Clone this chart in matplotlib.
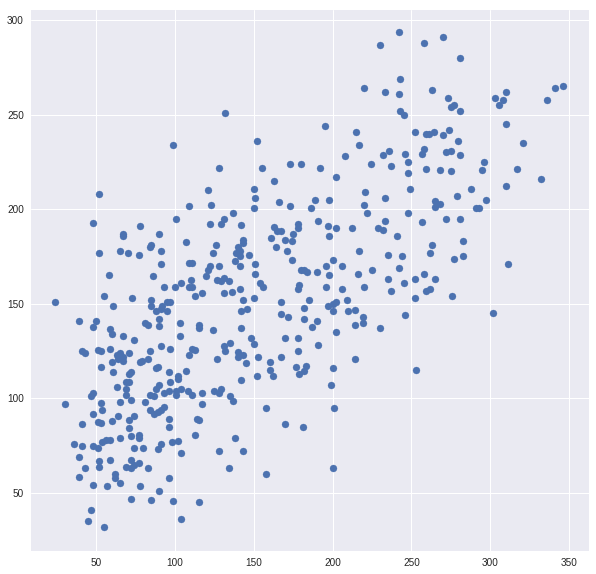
import matplotlib
matplotlib.use("Agg")
import matplotlib.pyplot as plt

# points, grouped by the region they were read from
top_mid = [(98.5, 234), (132, 251), (152, 236), (128, 222), (155, 222), (173, 224), (180, 224),
           (163, 215), (121, 210), (150, 210.5)]
top_right = [(242, 293.5), (230, 287), (258, 288), (270, 291), (243, 269), (220, 264), (233, 262),
             (242, 261), (263, 263), (273, 259), (243, 252), (245, 250), (195, 244), (215, 241),
             (217, 234), (208, 228), (192, 222), (202, 217), (224.5, 224), (232, 228.5), (236, 231),
             (237, 223), (246, 229), (248, 225), (248, 219), (249, 210.5), (252, 241), (259, 240),
             (261, 240), (264, 241), (270, 239), (274, 242), (258, 232), (257, 229), (272, 230),
             (259, 221), (268, 220.5), (220.5, 209)]
top_far = [(281, 280), (277, 255), (275, 254), (281, 252), (310, 262), (303, 259), (308, 257.5),
           (305.5, 255), (336, 257.5), (341, 264), (346, 265), (310, 245), (321, 235), (279.5, 236),
           (275, 231), (281, 228.5), (296, 225), (295, 220.5), (275, 220), (317, 221), (332, 216),
           (310, 212), (288, 210.5)]
mid_far = [(279, 207), (297, 205), (291, 200.4), (293, 200.4), (281, 194.6), (283, 183), (277, 173.5),
           (283, 175), (311, 171), (276, 154), (302, 145)]
mid_right = [(233, 206), (189, 204.6), (198, 205), (220, 202), (222, 198), (233, 194), (248, 198),
             (265, 204.5), (268, 203), (265, 201), (257, 193), (272, 195), (191, 193.5), (197, 191),
             (202, 190), (198, 186), (212, 190), (229, 190), (232, 189), (241, 185.6), (263, 181),
             (262, 177), (217, 178), (235, 176), (244, 175.5), (200, 173), (196, 170), (190, 167),
             (206, 170), (198, 165), (216, 166), (225, 168), (242, 169), (258, 166), (235, 163),
             (245, 161), (252, 163), (265, 163), (196, 159), (206, 157.6), (220, 159), (237, 157),
             (259, 157), (262, 157.6), (252, 153), (197, 149), (200, 150), (202, 151), (200, 146),
             (209, 152), (210, 146), (214, 146.5), (219, 143), (214, 138.6), (219, 139.6), (230, 137),
             (246, 144), (190, 140.7), (202, 135), (191, 128), (214, 120.6), (200, 115.8), (253, 115)]
low_right = [(199, 107), (201, 95), (200, 63)]
mid_left = [(52, 208), (48, 192.5), (78, 191), (67, 187), (67, 185.6), (90, 187), (85, 181), (84, 180),
            (91, 178), (52, 176.6), (65.5, 178), (70, 176.6), (77, 176), (91, 171), (58, 165),
            (86, 164.5), (93, 158.7), (55, 154), (72.5, 153), (60.5, 149), (24, 150.7), (85, 152),
            (85, 148.6), (95, 151), (97, 150.7), (92, 148.6), (91, 147), (88, 146), (95, 146),
            (90, 141.7), (90, 138), (39.5, 141), (50, 140.7), (48, 137.5), (59, 136.5), (60, 134),
            (67, 133), (74, 131), (81, 140), (83, 139), (41, 125), (43, 124), (51, 125.4), (53, 124.8),
            (59, 126), (63, 122.7), (65.5, 124), (67, 121.7), (64, 121), (70.6, 124), (67, 119.5),
            (60, 119), (53, 116.4), (60.5, 114), (78, 119), (79, 119.5), (83, 121), (84, 125),
            (91.5, 127.5), (97, 126), (88, 116), (89, 116.4), (96, 114)]
low_left = [(71, 112.7), (72, 114), (63, 105.8), (69, 108.5), (70.6, 108.5), (69, 104.8), (69, 102),
            (72, 99), (65, 98), (46.5, 101), (48, 102.7), (30.6, 97), (53, 97.4), (53.5, 93.7),
            (48, 91.6), (41, 86.3), (51, 87.3), (53, 86.8), (60, 88), (64, 90.5), (70.6, 88.4),
            (74, 90.5), (70.6, 84.2), (81, 98), (84, 102), (86.5, 101), (90, 107), (88, 104.8),
            (93, 102.7), (96, 103.7), (97, 108.5), (84, 94), (86.5, 91.6), (89, 92.6), (91.5, 94),
            (93, 95.3), (96, 89), (96, 85), (36, 76), (41, 74.7), (48, 74.7), (51, 73.6), (54, 77),
            (56, 77.8), (59, 78), (65, 79), (72, 80), (77, 80.5), (77, 79), (74, 73.6), (79.5, 74),
            (89, 73), (91.5, 75.7), (98, 77), (39, 68.8), (43, 63), (39, 58.3), (52, 66.7), (52, 63.6),
            (59, 67.3), (48, 54), (57, 53.5), (62, 60), (62, 57.7), (65, 55), (69, 63.6), (72, 63),
            (72, 67.3), (74, 65), (77, 65.7), (83, 63), (78, 53.5), (72, 47), (85, 46), (90, 51),
            (96, 57.7), (46.5, 41), (44.6, 35), (55, 32)]
low_mid = [(102, 111.7), (102, 110), (101, 104), (101, 102), (104, 105), (108, 103.7), (111, 102),
           (117.5, 102.7), (117.5, 97), (124.5, 103.7), (128, 103), (129, 105), (135, 101), (137, 98.4),
           (142, 109.5), (152, 111.7), (162, 112), (158, 94.7), (170, 86.3), (181, 85), (179, 113),
           (114, 89), (115.6, 88.4), (113, 80.5), (102, 77.3), (104, 71), (128, 72), (138, 79),
           (143, 72), (134, 63), (158, 60), (98.5, 45.6), (115.6, 45), (104, 36)]
mid_mid = [(151, 205.7), (150, 200.4), (109, 201.5), (122.6, 202), (166, 204), (173, 201.5),
           (186, 200.4), (101, 195), (137, 198), (122, 192), (129, 192), (131, 194.6), (142, 191.4),
           (163, 190.4), (164.5, 188.3), (167, 188.3), (161, 184.6), (178, 192), (178, 189.8),
           (175, 186.7), (170, 183.5), (174, 183), (164, 179.8), (171, 178), (174, 173), (107, 182.4),
           (126, 181), (124, 177), (143, 183.5), (143.5, 182), (140, 180), (141, 178), (138.5, 177),
           (141, 175), (138, 172.4), (141, 170), (147, 175.6), (109, 171.3), (110.6, 171.3), (122, 170),
           (121, 167.6), (120, 164.5), (128, 170), (110, 162.4), (109, 159), (110.6, 159), (100, 159),
           (104, 161), (127, 162.4), (131, 163.4), (129, 162), (134, 162), (151, 171), (151, 166),
           (154, 161), (156, 159), (141, 158), (113, 154), (117.5, 155.5), (131, 155.5), (136, 156),
           (143.5, 152), (150, 153), (167.6, 151), (178, 157.6), (179, 159.7), (180, 168), (182, 167.6),
           (184, 167), (185, 152), (182, 147.6), (182, 141.7), (187, 137.5), (167.6, 144.4),
           (172, 142.8), (142, 146), (146, 147), (142, 137), (103, 140), (103, 133), (115.6, 139),
           (115, 137), (124, 136), (148, 131.7), (150, 128.5), (170, 131.7), (178, 132), (178, 125),
           (167.6, 121.7), (135, 129), (131, 127.5), (132, 125), (111, 126), (113, 125.4),
           (109, 122.7), (127, 121), (140, 124.3), (140, 121.7), (143.5, 122.7), (145, 118.5),
           (153, 121.7), (160, 119), (177, 116.4), (183, 117), (160, 114.8), (107, 114.3), (182, 114.3)]

points = (top_mid + top_right + top_far + mid_far + mid_right + low_right
          + mid_left + low_left + low_mid + mid_mid)
measured = [p[0] for p in points]
predicted = [p[1] for p in points]

plt.style.use("seaborn-v0_8")

fig = plt.figure(figsize=(596 / 72, 574 / 72), dpi=72)
ax = fig.add_axes([31 / 596, 23 / 574, 558 / 596, 541 / 574])
ax.scatter(measured, predicted, color="#4C72B0")

ax.set_xlim(8.75, 362.6)
ax.set_ylim(19.3, 305.3)
ax.set_xticks([50, 100, 150, 200, 250, 300, 350])
ax.set_yticks([50, 100, 150, 200, 250, 300])

fig.savefig("out.png", dpi=72)
